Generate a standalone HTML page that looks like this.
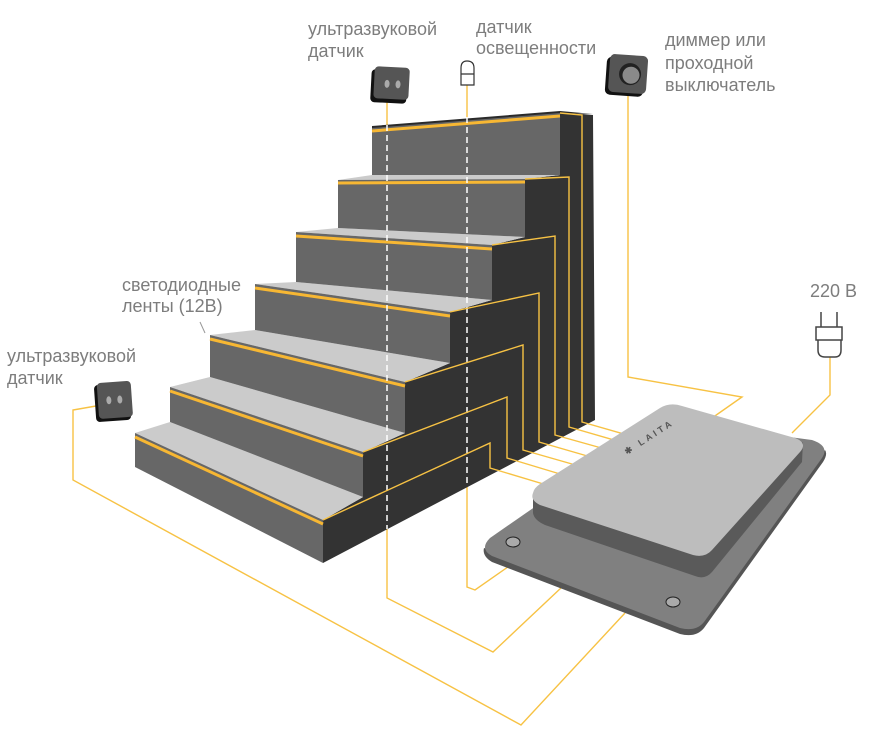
<!DOCTYPE html>
<html><head><meta charset="utf-8"><style>
html,body{margin:0;padding:0;background:#fff;}
svg{display:block;}
text{font-family:"Liberation Sans",sans-serif;font-size:18px;fill:#7d7d7d;}
</style></head><body>
<svg width="883" height="742" viewBox="0 0 883 742" xmlns="http://www.w3.org/2000/svg">
<g fill="none" stroke="#f7c244" stroke-width="1.4">
<polyline points="96,406 73,410 73,480 521,725 625,613"/>
<polyline points="387,529 387,598 493,652 562,587"/>
<polyline points="467,487 467,587 475,590 515,562"/>
<polyline points="387,102 387,125"/>
<polyline points="467,85 467,118"/>
<polyline points="628,95 628,377 742,397 712,418"/>
<polyline points="830,357 830,395 792,433"/>
</g>
<polygon fill="#333" points="323,563 323,520 363,497 363,452 405,433 405,382 450,363 450,312 492,300 492,245 525,237 525,179 560,175 560,112 593,115 595,420"/>
<g fill="#cbcbcb">
<polygon points="135,433 323,520 363,497 170,422"/>
<polygon points="170,387 363,452 405,433 210,377"/>
<polygon points="210,335 405,382 450,363 255,330"/>
<polygon points="255,284 450,312 492,300 296,282"/>
<polygon points="296,232 492,245 525,237 338,228"/>
<polygon points="338,180 525,179 560,175 372,175"/>
</g>
<g fill="#676767">
<polygon points="135,433 323,520 323,563 135,467"/>
<polygon points="170,387 363,452 363,497 170,422"/>
<polygon points="210,335 405,382 405,433 210,377"/>
<polygon points="255,284 450,312 450,363 255,330"/>
<polygon points="296,232 492,245 492,300 296,282"/>
<polygon points="338,180 525,179 525,237 338,228"/>
<polygon points="372,127 560,112 560,175 372,175"/>
</g>
<polygon fill="#2a2a2a" points="372,126 560,111 593,114 560,113 372,128"/>
<g stroke="#f7b733" stroke-width="3" fill="none">
<line x1="135" y1="437" x2="323" y2="524"/>
<line x1="170" y1="391" x2="363" y2="456"/>
<line x1="210" y1="339" x2="405" y2="386"/>
<line x1="255" y1="288" x2="450" y2="316"/>
<line x1="296" y1="236" x2="492" y2="249"/>
<line x1="338" y1="183" x2="525" y2="182"/>
<line x1="372" y1="131" x2="560" y2="116"/>
</g>
<g stroke="#fff" stroke-width="1.5" stroke-dasharray="6,4">
<line x1="387" y1="125" x2="387" y2="529"/>
<line x1="467" y1="117" x2="467" y2="487"/>
</g>
<g fill="none" stroke="#f7c244" stroke-width="1.4">
<polyline points="323,520 490,443 490,468 560,489"/>
<polyline points="363,452 507,397 507,458 580,480"/>
<polyline points="405,382 523,345 523,450 600,472"/>
<polyline points="450,312 539,293 539,442 615,464"/>
<polyline points="492,245 555,236 555,435 630,456"/>
<polyline points="525,179 569,177 569,427 645,449"/>
<polyline points="560,113 582,115 582,422 655,443"/>
</g>
<path fill="#555" d="M484,548 Q482,556 492,562 L680,634 Q696,638 704,628 L823,462 Q828,454 825,450 L700,616 Z"/>
<path fill="#808080" d="M490,538 L660,420 L812,440 Q830,446 822,458 L704,622 Q696,632 680,628 L492,556 Q479,549 490,538 Z"/>
<ellipse cx="513" cy="542" rx="7" ry="5" fill="#aaa" stroke="#222" stroke-width="1"/>
<ellipse cx="673" cy="602" rx="7" ry="5" fill="#aaa" stroke="#222" stroke-width="1"/>
<path fill="#5a5a5a" d="M533,493 L533,513 Q534,520 545,525 L695,576 Q705,580 712,572 L802,462 L803,442 L703,555 Z"/>
<path fill="#bdbdbd" d="M540,484 L660,408 Q670,402 682,406 L795,438 Q808,443 800,452 L712,550 Q705,558 693,555 L540,505 Q530,500 533,493 Q534,488 540,484 Z"/>
<g transform="translate(627,455) rotate(-33)">
<text x="0" y="0" style="font-size:9px;fill:#555;letter-spacing:3px;font-weight:bold">✱ LAITA</text>
</g>
<g transform="rotate(3 390 85)">
<rect x="371" y="70" width="36" height="33" rx="4" fill="#111"/>
<rect x="374" y="67" width="35" height="32" rx="4" fill="#555"/>
<ellipse cx="387" cy="84" rx="2.5" ry="4" fill="#aaa"/>
<ellipse cx="398" cy="84" rx="2.5" ry="4" fill="#aaa"/>
</g>
<g transform="rotate(-4 113 402)">
<rect x="95" y="384" width="35" height="37" rx="4" fill="#111"/>
<rect x="98" y="382" width="34" height="36" rx="4" fill="#555"/>
<ellipse cx="109" cy="400" rx="2.5" ry="4" fill="#aaa"/>
<ellipse cx="120" cy="400" rx="2.5" ry="4" fill="#aaa"/>
</g>
<path d="M461,85 L461,68 Q461,61 467,61 Q474,61 474,68 L474,85 Z M461,74 L474,74" fill="#fff" stroke="#333" stroke-width="1.2"/>
<g transform="rotate(4 628 75)">
<rect x="606" y="58" width="38" height="38" rx="5" fill="#111"/>
<rect x="609" y="55" width="38" height="38" rx="5" fill="#555"/>
<circle cx="630" cy="74" r="11" fill="#222"/>
<circle cx="631" cy="75" r="8.5" fill="#8a8a8a"/>
</g>
<g fill="none" stroke="#444" stroke-width="1.5">
<line x1="821" y1="312" x2="821" y2="327"/>
<line x1="837" y1="312" x2="837" y2="327"/>
<rect x="816" y="327" width="26" height="13" fill="#fff"/>
<path d="M818,340 L818,350 Q818,357 825,357 L835,357 Q841,357 841,350 L841,340"/>
</g>
<line x1="200" y1="322" x2="205" y2="333" stroke="#999" stroke-width="1"/>
<text x="308" y="35">ультразвуковой</text>
<text x="308" y="57">датчик</text>
<text x="476" y="33">датчик</text>
<text x="476" y="54">освещенности</text>
<text x="665" y="46">диммер или</text>
<text x="665" y="69">проходной</text>
<text x="665" y="91">выключатель</text>
<text x="810" y="297">220 В</text>
<text x="122" y="291">светодиодные</text>
<text x="122" y="312">ленты (12В)</text>
<text x="7" y="362">ультразвуковой</text>
<text x="7" y="384">датчик</text>
</svg>
</body></html>
